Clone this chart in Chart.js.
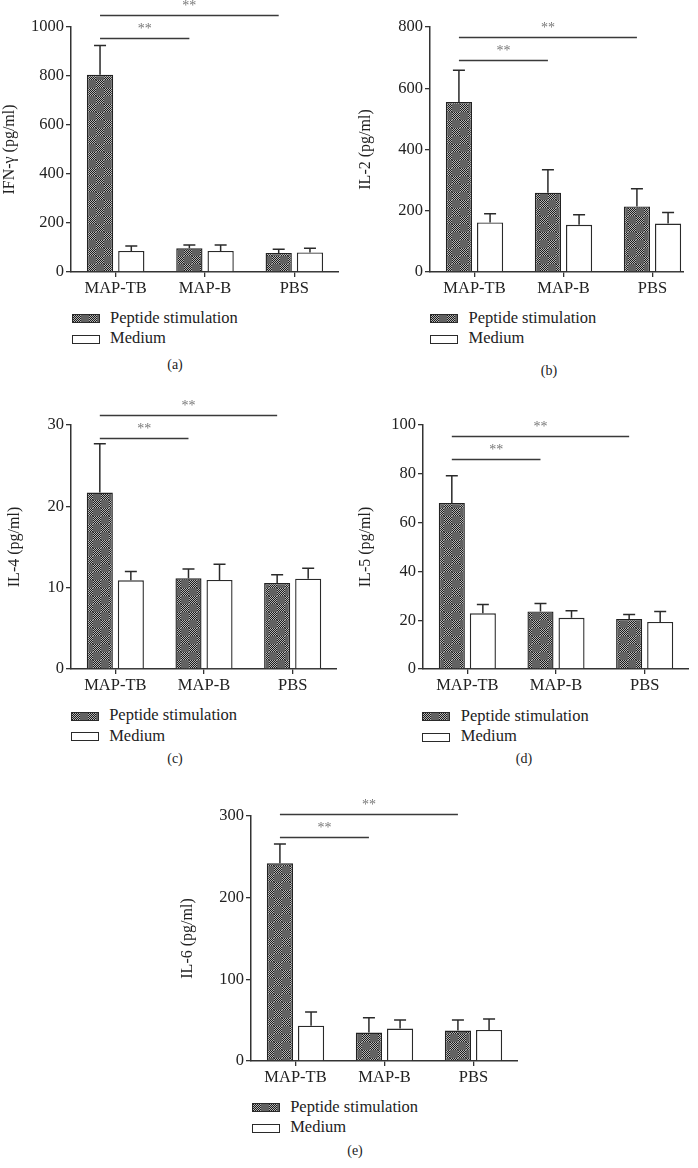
<!DOCTYPE html>
<html><head><meta charset="utf-8">
<script src="https://cdn.jsdelivr.net/npm/chart.js@4/dist/chart.umd.min.js"></script>
<style>
body{margin:0;background:#fff;width:698px;height:1168px;position:relative;overflow:hidden;font-family:"Liberation Serif","Times New Roman",serif;}
.wrap{position:absolute;overflow:hidden;}
.leg{position:absolute;font-size:16.5px;color:#222;line-height:1;white-space:nowrap;}
.box{position:absolute;width:26px;height:7px;border:1.4px solid #2a2a2a;background:#fff;}
.cap{position:absolute;font-size:14px;color:#222;transform:translate(-50%,-50%);white-space:nowrap;}
</style></head><body>
<script>
// ---- data ----
const categories = ['MAP-TB', 'MAP-B', 'PBS'];
const seriesNames = ['Peptide stimulation', 'Medium'];

const ifnPeptide = [805, 97, 78];
const ifnPeptideErr = [120, 13, 15];
const ifnMedium = [86, 86, 80];
const ifnMediumErr = [20, 24, 17];
const ifnTicks = [0, 200, 400, 600, 800, 1000];
const ifnSig = [956, 1050];

const il2Peptide = [555, 259, 214];
const il2PeptideErr = [104, 75, 58];
const il2Medium = [162, 154, 158];
const il2MediumErr = [28, 33, 36];
const il2Ticks = [0, 200, 400, 600, 800];
const il2Sig = [692, 766];

const il4Peptide = [21.7, 11.15, 10.57];
const il4PeptideErr = [6.0, 1.15, 1.03];
const il4Medium = [10.9, 10.95, 11.1];
const il4MediumErr = [1.1, 1.92, 1.3];
const il4Ticks = [0, 10, 20, 30];
const il4Sig = [28.4, 31.2];

const il5Peptide = [68.0, 23.6, 20.5];
const il5PeptideErr = [11.2, 3.2, 1.8];
const il5Medium = [22.8, 21.0, 19.3];
const il5MediumErr = [3.6, 2.9, 4.3];
const il5Ticks = [0, 20, 40, 60, 80, 100];
const il5Sig = [86.1, 95.5];

const il6Peptide = [242, 34.8, 37.2];
const il6PeptideErr = [23.7, 18.3, 13.0];
const il6Medium = [43.3, 39.7, 38.0];
const il6MediumErr = [16.7, 10.5, 13.4];
const il6Ticks = [0, 100, 200, 300];
const il6Sig = [274.3, 302.8];

const panelTitles = ['IFN-γ (pg/ml)', 'IL-2 (pg/ml)', 'IL-4 (pg/ml)', 'IL-5 (pg/ml)', 'IL-6 (pg/ml)'];
const panelCaptions = ['(a)', '(b)', '(c)', '(d)', '(e)'];

// ---- styling / layout ----
const FONT = 'Liberation Serif';
Chart.defaults.font.family = FONT;
Chart.defaults.color = '#222';

function makePatternCanvas() {
  const c = document.createElement('canvas'); c.width = 16; c.height = 16;
  const x = c.getContext('2d');
  x.fillStyle = '#626262'; x.fillRect(0, 0, 16, 16);
  for (let by = 0; by < 2; by++) for (let bx = 0; bx < 2; bx++) {
    if ((bx + by) % 2 === 0) {
      for (let i = 0; i < 8; i++) for (let j = 0; j < 8; j++) {
        x.fillStyle = ((i + j) % 2 === 0) ? '#1c1c1c' : '#b4b4b4';
        x.fillRect(bx * 8 + i, by * 8 + j, 1, 1);
      }
    }
  }
  return c;
}
const patCanvas = makePatternCanvas();

const errPlugin = {
  id: 'errbars',
  afterDatasetsDraw(chart, args, opts) {
    const ctx = chart.ctx, yS = chart.scales.y;
    chart.data.datasets.forEach((ds, di) => {
      const meta = chart.getDatasetMeta(di);
      meta.data.forEach((el, i) => {
        const top = yS.getPixelForValue(ds.data[i] + ds.err[i]);
        ctx.save();
        ctx.strokeStyle = '#2a2a2a'; ctx.lineWidth = 1.5;
        ctx.beginPath();
        ctx.moveTo(el.x, el.y); ctx.lineTo(el.x, top);
        ctx.moveTo(el.x - 6, top); ctx.lineTo(el.x + 6, top);
        ctx.stroke();
        ctx.restore();
      });
    });
  }
};

const sigPlugin = {
  id: 'sig',
  afterDraw(chart, args, opts) {
    const ctx = chart.ctx, yS = chart.scales.y;
    const m0 = chart.getDatasetMeta(0).data;
    const targets = [1, 2];
    (opts.levels || []).forEach((v, k) => {
      const yy = Math.round(yS.getPixelForValue(v)) + 0.5;
      const x1 = m0[0].x, x2 = m0[targets[k]].x;
      ctx.save();
      ctx.strokeStyle = '#3a3a3a'; ctx.lineWidth = 1.5;
      ctx.beginPath(); ctx.moveTo(x1, yy); ctx.lineTo(x2, yy); ctx.stroke();
      ctx.fillStyle = '#777';
      ctx.font = '14px ' + FONT;
      ctx.textAlign = 'center'; ctx.textBaseline = 'middle';
      ctx.fillText('**', (x1 + x2) / 2, yy - 9);
      ctx.restore();
    });
  }
};

const panels = [
  { left: 0, top: 0, width: 339, height: 300, clipW: 339, padTop: 27, yW: 71, xH: 28,
    pep: ifnPeptide, pepErr: ifnPeptideErr, med: ifnMedium, medErr: ifnMediumErr, ticks: ifnTicks, sig: ifnSig,
    leg: [71.5, 314], cap: [175, 365] },
  { left: 356, top: 0, width: 341, height: 300, clipW: 328, padTop: 27, yW: 74, xH: 28,
    pep: il2Peptide, pepErr: il2PeptideErr, med: il2Medium, medErr: il2MediumErr, ticks: il2Ticks, sig: il2Sig,
    leg: [430, 314], cap: [549, 371] },
  { left: 5, top: 380, width: 332, height: 317, clipW: 332, padTop: 45, yW: 66, xH: 28,
    pep: il4Peptide, pepErr: il4PeptideErr, med: il4Medium, medErr: il4MediumErr, ticks: il4Ticks, sig: il4Sig,
    leg: [70.7, 711.7], cap: [175, 759] },
  { left: 356, top: 380, width: 333, height: 317, clipW: 333, padTop: 45, yW: 67, xH: 28,
    pep: il5Peptide, pepErr: il5PeptideErr, med: il5Medium, medErr: il5MediumErr, ticks: il5Ticks, sig: il5Sig,
    leg: [422.3, 712], cap: [524, 759] },
  { left: 178, top: 770, width: 340, height: 319, clipW: 340, padTop: 46, yW: 73, xH: 28,
    pep: il6Peptide, pepErr: il6PeptideErr, med: il6Medium, medErr: il6MediumErr, ticks: il6Ticks, sig: il6Sig,
    leg: [251.7, 1103.3], cap: [355, 1151] }
];

function el(tag, cls, style, text) {
  const e = document.createElement(tag);
  if (cls) e.className = cls;
  Object.assign(e.style, style);
  if (text !== undefined) e.textContent = text;
  document.body.appendChild(e);
  return e;
}

panels.forEach((p, idx) => {
  const wrap = el('div', 'wrap', { left: p.left + 'px', top: p.top + 'px', width: p.clipW + 'px', height: p.height + 'px' });
  const cv = document.createElement('canvas');
  cv.width = p.width; cv.height = p.height;
  cv.style.width = p.width + 'px'; cv.style.height = p.height + 'px';
  wrap.appendChild(cv);
  const pattern = cv.getContext('2d').createPattern(patCanvas, 'repeat');
  const step = p.ticks[1] - p.ticks[0];
  const maxV = p.ticks[p.ticks.length - 1];
  new Chart(cv, {
    type: 'bar',
    data: {
      labels: categories,
      datasets: [
        { label: seriesNames[0], data: p.pep, err: p.pepErr, backgroundColor: pattern, borderColor: '#222',
          borderWidth: 1.4, categoryPercentage: 0.70, barPercentage: 0.84 },
        { label: seriesNames[1], data: p.med, err: p.medErr, backgroundColor: '#fff', borderColor: '#2a2a2a',
          borderWidth: 1.4, categoryPercentage: 0.70, barPercentage: 0.84 }
      ]
    },
    options: {
      responsive: false, animation: false, devicePixelRatio: 1,
      layout: { padding: { top: p.padTop, left: 0, right: 0, bottom: 0 } },
      plugins: { legend: { display: false }, tooltip: { enabled: false }, sig: { levels: p.sig } },
      scales: {
        x: {
          grid: { display: true, drawOnChartArea: false, offset: false, tickLength: 5, color: '#333', lineWidth: 1.3 },
          border: { display: true, color: '#333', width: 1.5 },
          ticks: { font: { size: 16.5 }, color: '#222', padding: 2, maxRotation: 0 },
          afterFit(s) { s.height = p.xH; }
        },
        y: {
          min: 0, max: maxV,
          grid: { display: true, drawOnChartArea: false, tickLength: 5, color: '#333', lineWidth: 1.3 },
          border: { display: true, color: '#333', width: 1.5 },
          ticks: { stepSize: step, font: { size: 16.5 }, color: '#222', padding: 2,
                   callback: (v) => String(v) },
          title: { display: true, text: panelTitles[idx], font: { size: 16 }, color: '#222', padding: 0 },
          afterFit(s) { s.width = p.yW; }
        }
      }
    },
    plugins: [errPlugin, sigPlugin]
  });

  // legend (HTML)
  const [L, T] = p.leg;
  const b1 = el('div', 'box', { left: L + 'px', top: T + 'px' });
  b1.style.backgroundImage = 'url(' + patCanvas.toDataURL() + ')';
  el('div', 'leg', { left: (L + 38.5) + 'px', top: (T - 4.5) + 'px' }, seriesNames[0]);
  el('div', 'box', { left: L + 'px', top: (T + 20.5) + 'px' });
  el('div', 'leg', { left: (L + 38.5) + 'px', top: (T + 16) + 'px' }, seriesNames[1]);
  el('div', 'cap', { left: p.cap[0] + 'px', top: p.cap[1] + 'px' }, panelCaptions[idx]);
});
</script>
</body></html>
